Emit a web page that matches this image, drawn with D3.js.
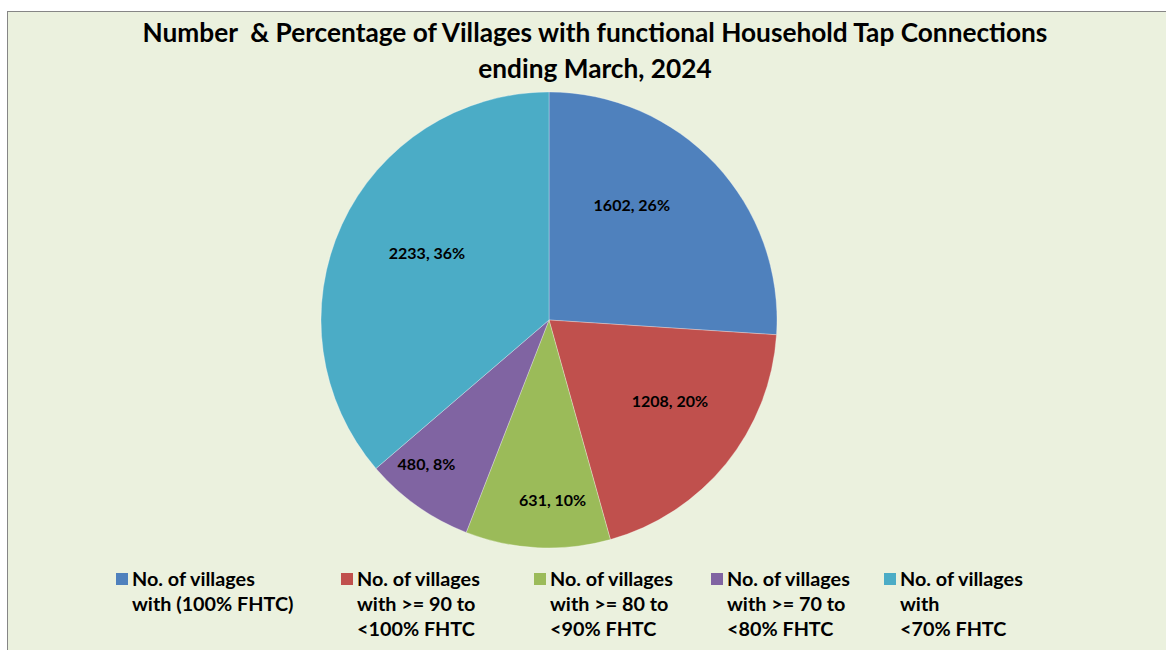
<!DOCTYPE html>
<html><head><meta charset="utf-8">
<script src="https://cdn.jsdelivr.net/npm/d3@7"></script>
<style>html,body{margin:0;padding:0;background:#fff;}svg{display:block;}text{white-space:pre;}</style>
</head><body>
<svg id="chart" width="1166" height="650"></svg>
<script>
const categories = [
  ["No. of villages", "with (100% FHTC)"],
  ["No. of villages", "with >= 90 to", "<100% FHTC"],
  ["No. of villages", "with >= 80 to", "<90% FHTC"],
  ["No. of villages", "with >= 70 to", "<80% FHTC"],
  ["No. of villages", "with", "<70% FHTC"]
];
const values = [1602, 1208, 631, 480, 2233];
const colors = ["#4F81BD", "#C0504D", "#9BBB59", "#8064A2", "#4BACC6"];
const titleLines = ["Number  & Percentage of Villages with functional Household Tap Connections", "ending March, 2024"];
// layout: label placement (fraction of radius, angle offset in degrees), legend entry left edges
const labelRadius = [0.62, 0.64, 0.79, 0.83, 0.61];
const labelShift = [-11, -5, -4, 5, 4];
const legendLeft = [116, 341, 534, 711, 884];

const W = 1166, H = 650;
const font = "Lato, 'Open Sans', sans-serif";
const svg = d3.select("#chart");

svg.append("rect").attr("x", 7.5).attr("y", 11.5).attr("width", W + 10).attr("height", H + 10)
  .attr("fill", "#EBF1DE").attr("stroke", "#868686").attr("stroke-width", 1);

// fit a text's font size so its width matches a target width
function fit(sel, target) {
  const w = sel.node().getComputedTextLength();
  const fs = parseFloat(sel.attr("font-size"));
  sel.attr("font-size", (fs * target / w).toFixed(2));
}

const t1 = svg.append("text").attr("x", 595).attr("y", 42)
  .attr("text-anchor", "middle").attr("font-family", font).attr("font-weight", "bold")
  .attr("font-size", 22).attr("fill", "#000").text(titleLines[0]);
fit(t1, 905);
svg.append("text").attr("x", 595).attr("y", 78)
  .attr("text-anchor", "middle").attr("font-family", font).attr("font-weight", "bold")
  .attr("font-size", t1.attr("font-size")).attr("fill", "#000").text(titleLines[1]);

const cx = 549, cy = 320, R = 228;
const total = d3.sum(values);
const pie = d3.pie().sort(null).value(d => d);
const arcs = pie(values);
const arc = d3.arc().innerRadius(0).outerRadius(R);
const g = svg.append("g").attr("transform", `translate(${cx},${cy})`);
g.selectAll("path").data(arcs).join("path")
  .attr("d", arc).attr("fill", (d, i) => colors[i])
  .attr("stroke", "#ffffff").attr("stroke-opacity", 0.5).attr("stroke-width", 0.6);

g.selectAll("text").data(arcs).join("text")
  .attr("transform", (d, i) => {
    const a = (d.startAngle + d.endAngle) / 2 + labelShift[i] * Math.PI / 180;
    const r = R * labelRadius[i];
    return `translate(${r * Math.sin(a)},${-r * Math.cos(a)})`;
  })
  .attr("text-anchor", "middle").attr("dy", "0.35em")
  .attr("font-family", font).attr("font-weight", "bold").attr("font-size", 16).attr("fill", "#000")
  .text(d => `${d.data}, ${Math.round(d.data / total * 100)}%`);

const lg = svg.append("g");
const items = lg.selectAll("g").data(categories).join("g")
  .attr("transform", (d, i) => `translate(${legendLeft[i]},573)`);
items.append("rect").attr("width", 12).attr("height", 12).attr("fill", (d, i) => colors[i]);
items.append("text").attr("font-family", font).attr("font-weight", "bold").attr("font-size", 19.8)
  .attr("fill", "#000")
  .selectAll("tspan").data(d => d).join("tspan")
  .attr("x", 16).attr("y", (d, i) => 13 + i * 25).text(d => d);
</script>
</body></html>
